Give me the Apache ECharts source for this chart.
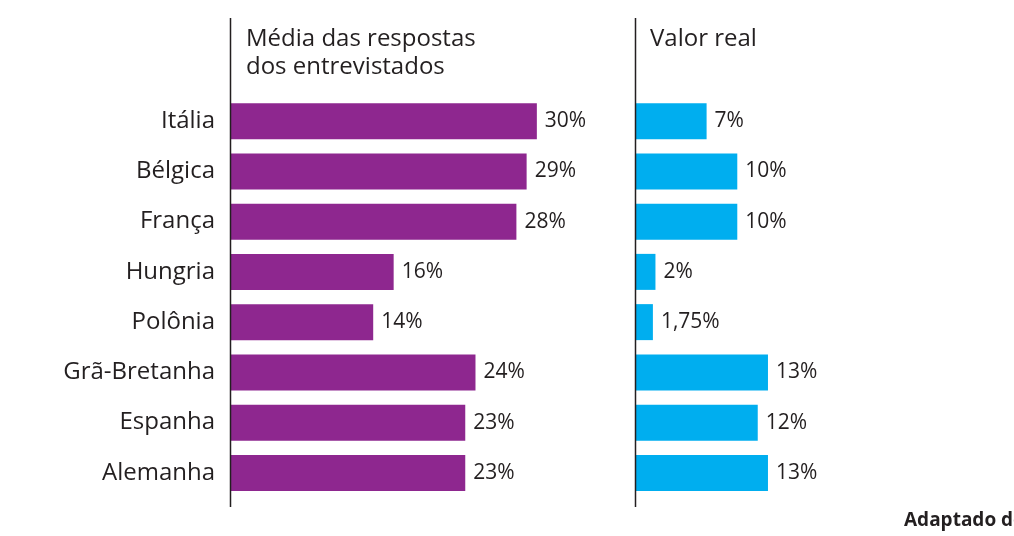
<!DOCTYPE html>
<html>
<head>
<meta charset="UTF-8">
<title>Média das respostas x Valor real</title>
<script src="https://cdn.jsdelivr.net/npm/echarts@6/dist/echarts.min.js"></script>
<style>
  html, body { margin: 0; padding: 0; background: #fff; }
  #main { width: 1014px; height: 536px; }
</style>
</head>
<body>
<div id="main"></div>
<script type="text/javascript">
    var paises = ['Itália', 'Bélgica', 'França', 'Hungria', 'Polônia', 'Grã-Bretanha', 'Espanha', 'Alemanha'];
    var mediaRespostas = [30, 29, 28, 16, 14, 24, 23, 23];
    var valorReal = [7, 10, 10, 2, 1.75, 13, 12, 13];

    var font = '"Open Sans", Lato, sans-serif';
    var textColor = '#231f20';

    var myChart = echarts.init(document.getElementById('main'));

    function pct(p) {
        return String(p.value).replace('.', ',') + '%';
    }

    option = {
        animation: false,
        textStyle: { fontFamily: font },
        title: [
            {
                text: 'Média das respostas\ndos entrevistados',
                left: 241, top: 20,
                textStyle: { fontFamily: font, fontSize: 24, fontWeight: 'normal', color: textColor, lineHeight: 28 }
            },
            {
                text: 'Valor real',
                left: 645, top: 20,
                textStyle: { fontFamily: font, fontSize: 24, fontWeight: 'normal', color: textColor, lineHeight: 28 }
            },
            {
                text: 'Adaptado de',
                left: 899, top: 506,
                textStyle: { fontFamily: font, fontSize: 19, fontWeight: 'bold', color: textColor }
            }
        ],
        grid: [
            { left: 230, top: 96, width: 358, height: 402 },
            { left: 635, top: 96, width: 358, height: 402 }
        ],
        xAxis: [
            { type: 'value', gridIndex: 0, min: 0, max: 35, show: false },
            { type: 'value', gridIndex: 1, min: 0, max: 35, show: false }
        ],
        yAxis: [
            {
                type: 'category', gridIndex: 0, data: paises, inverse: true,
                axisLine: { show: false }, axisTick: { show: false },
                axisLabel: { margin: 15, fontSize: 24, color: textColor, fontFamily: font, padding: [8, 0, 0, 0] }
            },
            {
                type: 'category', gridIndex: 1, data: paises, inverse: true,
                axisLine: { show: false }, axisTick: { show: false },
                axisLabel: { show: false }
            }
        ],
        series: [
            {
                name: 'Média das respostas dos entrevistados',
                type: 'bar', xAxisIndex: 0, yAxisIndex: 0,
                data: mediaRespostas, barWidth: 36,
                itemStyle: { color: '#8e278f' },
                label: { show: true, position: 'right', distance: 8, fontSize: 21, color: textColor, fontFamily: font, formatter: pct }
            },
            {
                name: 'Valor real',
                type: 'bar', xAxisIndex: 1, yAxisIndex: 1,
                data: valorReal, barWidth: 36,
                itemStyle: { color: '#00aeef' },
                label: { show: true, position: 'right', distance: 8, fontSize: 21, color: textColor, fontFamily: font, formatter: pct }
            }
        ],
        graphic: [
            { type: 'line', shape: { x1: 230.5, y1: 18, x2: 230.5, y2: 507 }, style: { stroke: '#231f20', lineWidth: 1.5 }, z: 10 },
            { type: 'line', shape: { x1: 635.5, y1: 18, x2: 635.5, y2: 507 }, style: { stroke: '#231f20', lineWidth: 1.5 }, z: 10 }
        ]
    };
    myChart.setOption(option);
</script>
</body>
</html>
